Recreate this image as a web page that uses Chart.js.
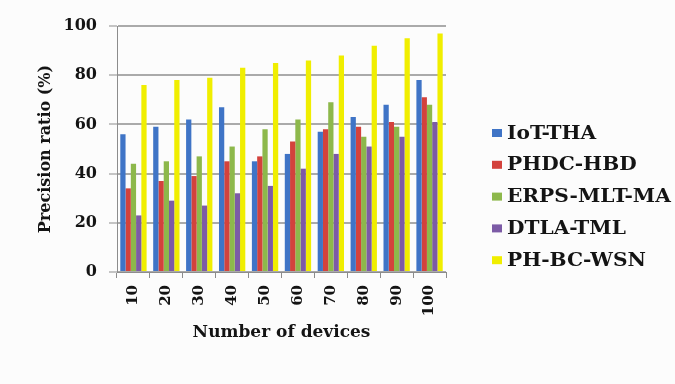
<!DOCTYPE html>
<html>
<head>
<meta charset="utf-8">
<script src="https://cdn.jsdelivr.net/npm/chart.js@4/dist/chart.umd.min.js"></script>
<style>
  html, body { margin: 0; padding: 0; background: #fcfcfc; }
  #wrap { width: 675px; height: 384px; }
</style>
</head>
<body>
<div id="wrap"><canvas id="c" width="675" height="384"></canvas></div>
<script>
// Number of devices
const categories = ['10', '20', '30', '40', '50', '60', '70', '80', '90', '100'];

// Precision ratio (%) per method
const iotTha     = [56, 59, 62, 67, 45, 48, 57, 63, 68, 78];
const phdcHbd    = [34, 37, 39, 45, 47, 53, 58, 59, 61, 71];
const erpsMltMa  = [44, 45, 47, 51, 58, 62, 69, 55, 59, 68];
const dtlaTml    = [23, 29, 27, 32, 35, 42, 48, 51, 55, 61];
const phBcWsn    = [76, 78, 79, 83, 85, 86, 88, 92, 95, 97];

const seriesNames = ['IoT-THA', 'PHDC-HBD', 'ERPS-MLT-MA', 'DTLA-TML', 'PH-BC-WSN'];
const seriesValues = [iotTha, phdcHbd, erpsMltMa, dtlaTml, phBcWsn];
const seriesColors = ['#3f74c6', '#d3423c', '#8db84b', '#7c5ba6', '#f0ee00'];

const FONT = '"DejaVu Serif", "Liberation Serif", serif';
const TEXT = '#141414';

// Paint the page background behind everything
const backgroundPlugin = {
  id: 'pageBackground',
  beforeDraw(chart) {
    const ctx = chart.ctx;
    ctx.save();
    ctx.fillStyle = '#fcfcfc';
    ctx.fillRect(0, 0, chart.width, chart.height);
    ctx.restore();
  }
};

// Vertical legend to the right of the plot
const sideLegend = {
  id: 'sideLegend',
  afterDraw(chart) {
    const ctx = chart.ctx;
    const x0 = chart.chartArea.right + 46;
    const y0 = 133;
    const step = 31.8;
    ctx.save();
    ctx.font = 'bold 18px ' + FONT;
    ctx.textBaseline = 'middle';
    ctx.textAlign = 'left';
    chart.data.datasets.forEach((ds, i) => {
      const y = y0 + i * step;
      ctx.fillStyle = ds.backgroundColor;
      ctx.fillRect(x0, y - 4, 10, 8);
      ctx.fillStyle = TEXT;
      // slightly widened lettering
      ctx.save();
      ctx.translate(x0 + 15, y + 1);
      ctx.scale(1.12, 1);
      ctx.fillText(ds.label, 0, 0);
      ctx.restore();
    });
    ctx.restore();
  }
};

new Chart(document.getElementById('c'), {
  type: 'bar',
  data: {
    labels: categories,
    datasets: seriesNames.map((name, i) => ({
      label: name,
      data: seriesValues[i],
      backgroundColor: seriesColors[i],
      borderWidth: 0,
      categoryPercentage: 0.8,
      barPercentage: 1.0
    }))
  },
  options: {
    responsive: false,
    animation: false,
    devicePixelRatio: 1,
    layout: { padding: { left: 0, right: 229, top: 26, bottom: 0 } },
    plugins: {
      legend: { display: false },
      tooltip: { enabled: false }
    },
    scales: {
      x: {
        offset: true,
        grid: {
          offset: true,
          drawOnChartArea: false,
          drawTicks: true,
          tickLength: 6,
          color: '#8c8c8c'
        },
        border: { color: '#8c8c8c', width: 1 },
        ticks: {
          minRotation: 90,
          maxRotation: 90,
          padding: 7,
          color: TEXT,
          font: { family: FONT, size: 15, weight: 'bold' }
        },
        title: {
          display: true,
          text: 'Number of devices',
          color: TEXT,
          font: { family: FONT, size: 17, weight: 'bold' },
          padding: { top: 0, bottom: 41 }
        },
        afterFit(scale) { scale.height = 112; }
      },
      y: {
        min: 0,
        max: 100,
        ticks: {
          stepSize: 20,
          padding: 12,
          color: TEXT,
          font: { family: FONT, size: 16, weight: 'bold' }
        },
        grid: {
          color: '#aaaaaa',
          lineWidth: 2,
          tickLength: 8,
          tickColor: '#8c8c8c',
          tickWidth: 1
        },
        border: { color: '#8c8c8c', width: 1 },
        title: {
          display: true,
          text: 'Precision ratio (%)',
          color: TEXT,
          font: { family: FONT, size: 16, weight: 'bold' },
          padding: { top: 36, bottom: 0 }
        },
        afterFit(scale) { scale.width = 117; }
      }
    }
  },
  plugins: [backgroundPlugin, sideLegend]
});
</script>
</body>
</html>
